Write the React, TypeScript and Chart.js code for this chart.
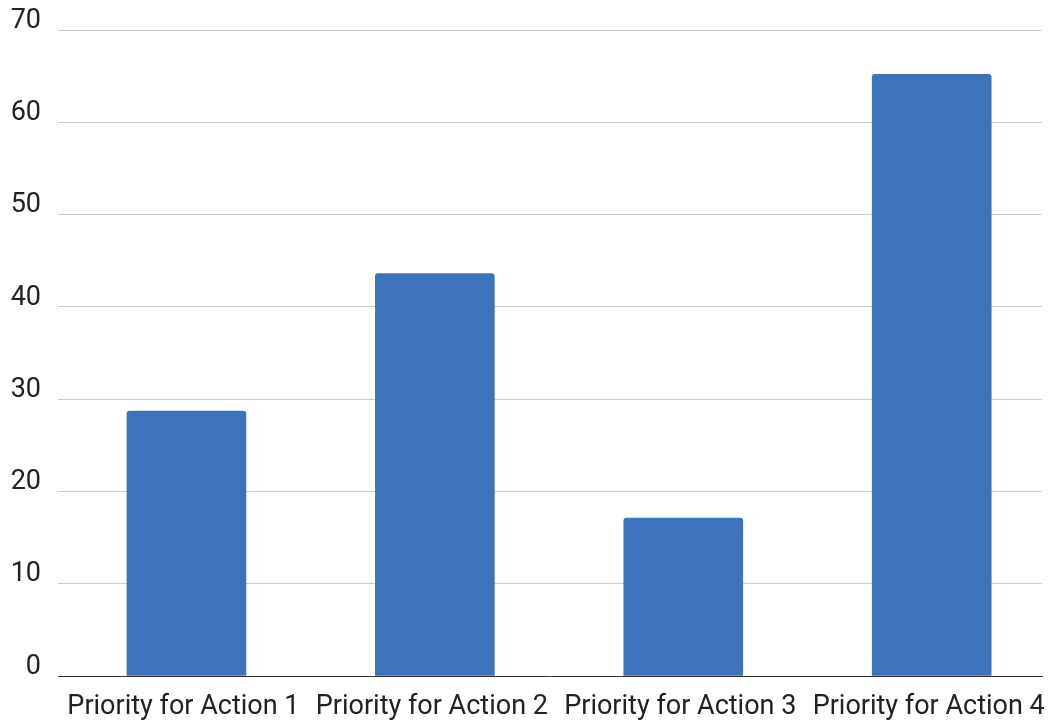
import React, { useEffect, useRef } from "react";
import { Chart, registerables } from "chart.js";

Chart.register(...registerables);

const categories = ["Priority for Action 1", "Priority for Action 2", "Priority for Action 3", "Priority for Action 4"];
const values = [28.7, 43.6, 17.1, 65.2];
const yTicks = [0, 10, 20, 30, 40, 50, 60, 70];

export default function App() {
  const ref = useRef<HTMLCanvasElement | null>(null);
  useEffect(() => {
    if (!ref.current) return;
    const font = { family: "Roboto", size: 27 };
    const chart = new Chart(ref.current, {
      type: "bar",
      data: {
        datasets: [
          {
            data: values.map((v, i) => ({ x: i, y: v })),
            backgroundColor: "#3d73ba",
            borderRadius: 3,
            borderSkipped: "bottom",
            barThickness: 119,
          },
        ],
      },
      options: {
        animation: false,
        responsive: false,
        maintainAspectRatio: false,
        layout: { padding: { top: 30, right: 10, left: 0, bottom: 0 } },
        plugins: { legend: { display: false }, tooltip: { enabled: false } },
        scales: {
          x: {
            type: "linear",
            offset: false,
            min: -0.517,
            max: 3.444,
            afterBuildTicks: (axis: any) => {
              axis.ticks = categories.map((_, i) => ({ value: i }));
            },
            afterFit: (axis: any) => {
              axis.height = 48;
              axis.paddingLeft = 0;
              axis.paddingRight = 0;
            },
            ticks: {
              callback: (v: any) => categories[v] ?? "",
              font,
              color: "#222",
              padding: 15,
              labelOffset: -3,
              maxRotation: 0,
              autoSkip: false,
            },
            grid: { display: false, drawTicks: false, offset: false },
            border: { display: true, color: "#333", width: 1 },
          },
          y: {
            min: 0,
            max: 70,
            afterBuildTicks: (axis: any) => {
              axis.ticks = yTicks.map((v) => ({ value: v }));
            },
            afterFit: (axis: any) => {
              axis.width = 58;
              axis.paddingTop = 0;
              axis.paddingBottom = 0;
            },
            ticks: { font, color: "#222", padding: 17, labelOffset: -9 },
            grid: {
              drawTicks: false,
              color: (ctx: any) => (ctx.tick && ctx.tick.value === 0 ? "rgba(0,0,0,0)" : "#cccccc"),
              lineWidth: 1,
            },
            border: { display: false },
          },
        },
      },
    });
    return () => chart.destroy();
  }, []);
  return (
    <div style={{ position: "fixed", left: 0, top: 0, width: 1052, height: 724, background: "#fff" }}>
      <canvas ref={ref} width={1052} height={724} style={{ width: 1052, height: 724, display: "block" }} />
    </div>
  );
}
